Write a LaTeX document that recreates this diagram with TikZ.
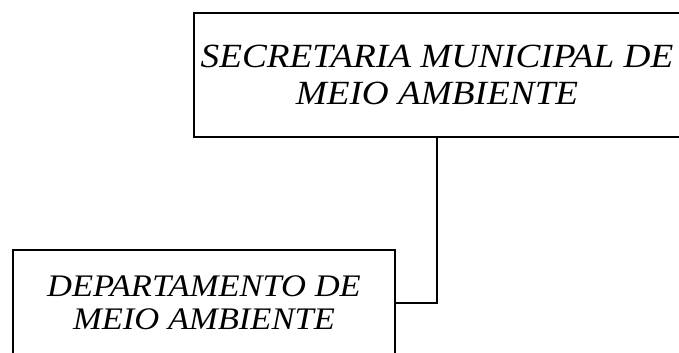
\documentclass[tikz,border=0pt]{standalone}
\usepackage{fontspec}
\setmainfont{Liberation Serif}[FakeStretch=1.1]
\usetikzlibrary{positioning}

\begin{document}
\begin{tikzpicture}[x=1bp,y=-1bp,
    unitbox/.style={draw,line width=1.5bp,align=center,inner sep=0pt},
    link/.style={line width=1.5bp}]
  \useasboundingbox (0,0) rectangle (679,352);
  \node[unitbox,minimum width=486bp,minimum height=124bp,
        font=\fontsize{34}{38}\selectfont\itshape] (secretaria) at (437,75)
        {SECRETARIA MUNICIPAL DE\\MEIO AMBIENTE};
  \node[unitbox,minimum width=382bp,minimum height=106bp,
        font=\fontsize{31.5}{33}\selectfont\itshape] (departamento) at (204,303)
        {DEPARTAMENTO DE\\MEIO AMBIENTE};
  \draw[link] (secretaria.south) |- (departamento.east);
\end{tikzpicture}
\end{document}
